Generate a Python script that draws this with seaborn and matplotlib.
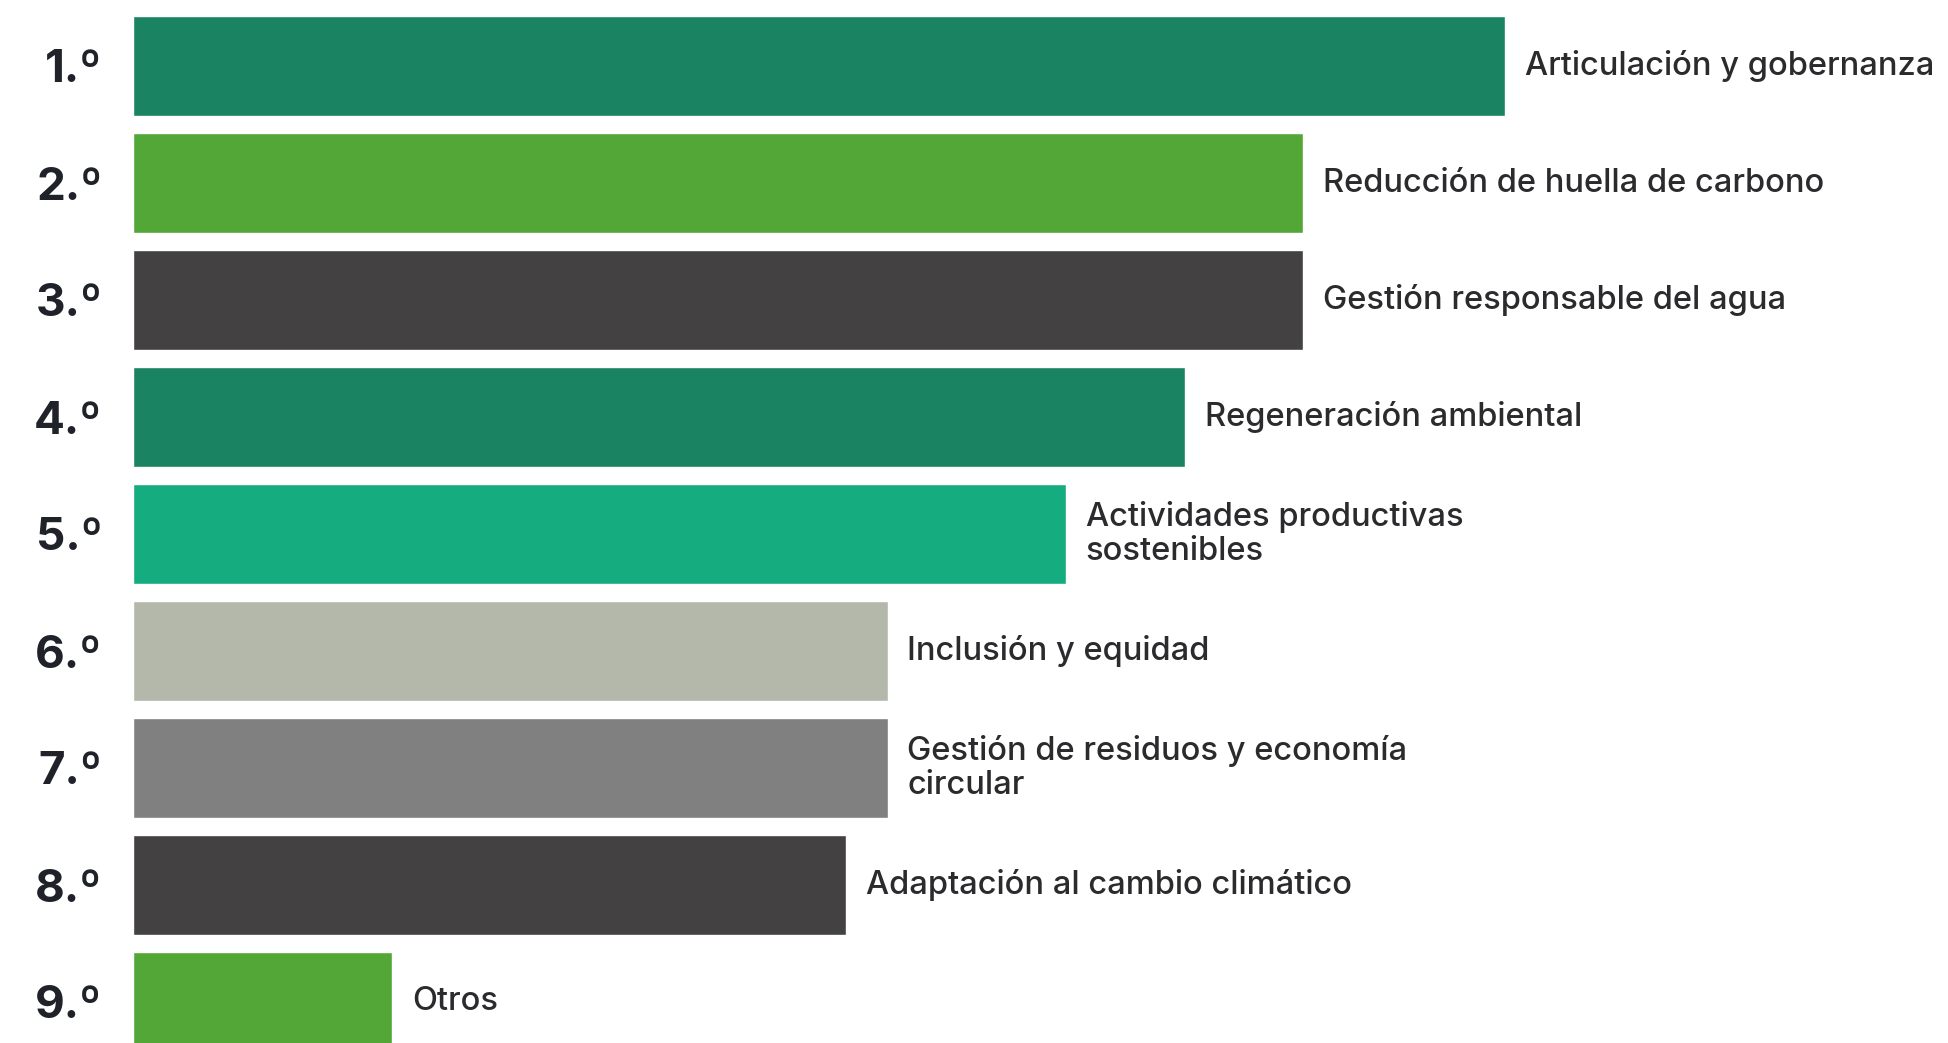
import seaborn as sns
import pandas as pd
import matplotlib.pyplot as plt

# Data (relative score, top item = 100)
ranks = ["1.º", "2.º", "3.º", "4.º", "5.º", "6.º", "7.º", "8.º", "9.º"]
temas = ["Articulación y gobernanza",
         "Reducción de huella de carbono",
         "Gestión responsable del agua",
         "Regeneración ambiental",
         "Actividades productivas\nsostenibles",
         "Inclusión y equidad",
         "Gestión de residuos y economía\ncircular",
         "Adaptación al cambio climático",
         "Otros"]
valores = [100, 85.3, 85.3, 76.7, 68.0, 55.0, 55.0, 52.0, 18.9]
colores = ["#1a8462", "#52a737", "#434142", "#1a8462", "#15ad80",
           "#b4b8aa", "#808080", "#434142", "#52a737"]

df = pd.DataFrame({"tema": temas, "valor": valores})

sns.set_theme(style="white")
plt.rcParams['font.family'] = ['Inter', 'DejaVu Sans']

fig = plt.figure(figsize=(19.48, 10.43), dpi=100)
ax = fig.add_axes([133 / 1948, 0, 1 - 133 / 1948, 1])

sns.barplot(data=df, x="valor", y="tema", hue="tema", palette=colores,
            saturation=1, legend=False, width=0.855, orient="h", ax=ax)

ax.set_xlim(0, 100 * 1815 / 1372)
ax.set_ylim((1043 - 66) / 117, -66 / 117)

# category labels to the right of each bar
for i, (t, v) in enumerate(zip(temas, valores)):
    ax.text(v + 1.45, i, t, va="center", ha="left", fontsize=23.5,
            fontweight="medium", color="#2b2b2e", linespacing=1.1)

ax.set_yticks(range(len(ranks)))
ax.set_yticklabels(ranks, fontsize=33, fontweight="bold", color="#1f2229")
ax.tick_params(axis="y", length=0, pad=22)
ax.set_xticks([])
ax.set_xlabel("")
ax.set_ylabel("")
sns.despine(ax=ax, left=True, bottom=True)

fig.savefig("out.png", dpi=100, facecolor="white")
